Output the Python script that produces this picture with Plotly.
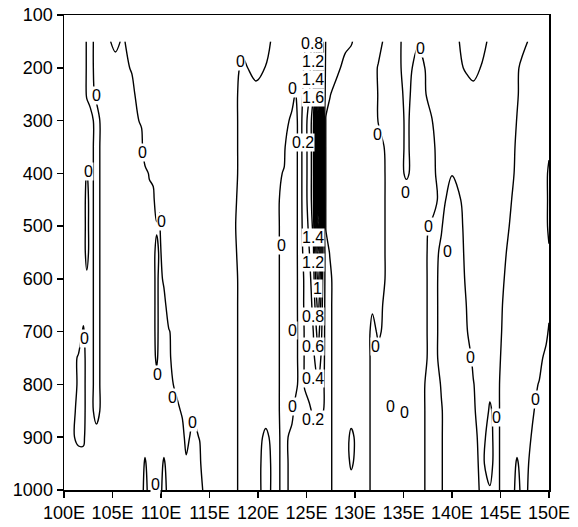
import plotly.graph_objects as go

# Pressure levels (hPa) of the grid rows
levels = [150, 200, 250, 300, 350, 400, 450, 500, 550, 600, 650, 700, 750, 800, 850, 900, 950, 1000]

# Longitudes of the grid columns (deg E)
lons = [100.0, 100.5, 101.5, 102.0, 102.35, 102.7, 103.35, 104.0, 105.3, 106.0,
        107.0, 108.0, 108.35, 108.8, 109.2, 109.55, 109.85, 110.3, 110.8, 111.5,
        112.2, 112.6, 113.3, 114.0, 114.6, 116.0, 117.3, 118.5, 119.8, 120.8,
        121.8, 122.7, 123.5, 123.85, 124.3, 124.8, 125.3, 125.7, 126.2, 126.7,
        127.0, 127.4, 128.0, 129.0, 129.6, 130.5, 131.3, 131.8, 132.4, 133.3,
        134.2, 135.3, 136.5, 137.9, 138.9, 140.0, 141.5, 142.2, 143.0, 143.9,
        144.5, 145.3, 146.2, 146.7, 147.3, 148.2, 149.0, 149.7, 150.0]

# Field values: one profile (150 -> 1000 hPa) per longitude column
z_by_lon = [
    [.1, .1, .1, .1, .1, .1, .1, .1, .1, .1, .1, .1, .1, .1, .1, .1, .1, .1],            # 100.0
    [.1, .1, .1, .1, .1, .1, .1, .1, .1, .1, .1, .1, .1, .1, .1, .07, .1, .1],           # 100.5
    [.1, .1, .1, .1, .1, .1, .1, .1, .1, .1, .1, .1, -.02, -.02, -.05, -.05, .1, .1],    # 101.5
    [.1, .1, .1, .1, .1, .1, .13, .13, .13, .1, .1, -.03, -.1, -.1, -.1, -.05, .1, .1],  # 102.0
    [-.02, -.02, -.02, .1, .1, -.02, -.1, -.1, -.1, .05, .1, .1, .1, .1, .1, .1, .1, .1],  # 102.35
    [-.1, -.1, -.1, .1, .1, .1, .1, .1, .1, .1, .1, .1, .1, .1, .1, .1, .1, .1],         # 102.7
    [.1, .1, .05, -.1, -.1, -.1, -.1, -.1, -.1, -.1, -.1, -.1, -.1, -.1, -.1, .1, .1, .1],  # 103.35
    [.16, .1, .1, .09, .09, .09, .09, .09, .09, .09, .09, .09, .09, .09, .09, .1, .1, .1],  # 104.0
    [-.1, .15, .1, .1, .1, .1, .1, .1, .1, .1, .1, .1, .1, .1, .1, .1, .1, .1],          # 105.3
    [.04, .1, .1, .1, .1, .1, .1, .1, .1, .1, .1, .1, .1, .1, .1, .1, .1, .1],           # 106.0
    [-.1, -.03, .1, .1, .1, .1, .1, .1, .1, .1, .1, .1, .1, .1, .1, .1, .1, .1],         # 107.0
    [-.1, -.1, -.23, -.04, .1, .1, .1, .1, .1, .1, .1, .1, .1, .1, .1, .1, .1, .1],      # 108.0
    [-.1, -.1, -.1, -.1, -.25, .1, .1, .1, .1, .1, .1, .1, .1, .1, .1, .1, -.03, -.1],   # 108.35
    [-.1, -.1, -.1, -.1, -.1, -.03, .1, .1, .1, .1, .1, .1, .1, .1, .1, .1, .1, .1],     # 108.8
    [-.1, -.1, -.1, -.1, -.1, -.1, .1, .1, .1, .1, .1, .1, .1, .1, .1, .1, .1, .1],      # 109.2
    [-.1, -.1, -.1, -.1, -.1, -.1, -.25, .05, -.1, -.1, -.1, -.1, -.05, .1, .1, .1, .1, -.1],  # 109.55
    [-.1, -.1, -.1, -.1, -.1, -.1, -.1, .1, .05, .1, .1, .1, .1, .1, .1, .1, .1, .1],    # 109.85
    [-.1, -.1, -.1, -.1, -.1, -.1, -.1, -.8, -.1, -.05, .1, .1, .1, .1, .1, .1, -.03, -.1],  # 110.3
    [-.1, -.1, -.1, -.1, -.1, -.1, -.1, -.1, -.1, -.1, -.15, .02, .1, .1, .1, .1, .1, .1],   # 110.8
    [-.1, -.1, -.1, -.1, -.1, -.1, -.1, -.1, -.1, -.1, -.1, -.1, -.25, -.05, .1, .1, .1, .1],  # 111.5
    [-.1, -.1, -.1, -.1, -.1, -.1, -.1, -.1, -.1, -.1, -.1, -.1, -.1, -.1, -.04, .1, .1, .1],  # 112.2
    [-.1, -.1, -.1, -.1, -.1, -.1, -.1, -.1, -.1, -.1, -.1, -.1, -.1, -.1, -.1, -.1, .05, .1],  # 112.6
    [-.1, -.1, -.1, -.1, -.1, -.1, -.1, -.1, -.1, -.1, -.1, -.1, -.1, -.1, -.05, .1, .1, .1],  # 113.3
    [-.1, -.1, -.1, -.1, -.1, -.1, -.1, -.1, -.1, -.1, -.1, -.1, -.1, -.1, -.1, -.02, .1, .1],  # 114.0
    [-.1, -.1, -.1, -.1, -.1, -.1, -.1, -.1, -.1, -.1, -.1, -.1, -.1, -.1, -.1, -.1, -.5, -.1],  # 114.6
    [-.1, -.1, -.1, -.1, -.1, -.1, -.1, -.1, -.1, -.1, -.1, -.1, -.1, -.1, -.1, -.1, -.1, -.1],  # 116.0
    [-.1, -.1, -.1, -.1, -.1, -.1, -.07, -.05, -.07, -.1, -.1, -.1, -.1, -.1, -.1, -.1, -.1, -.1],  # 117.3
    [-.1, .05, .1, .1, .1, .1, .1, .1, .1, .1, .1, .1, .1, .1, .1, .1, .1, .1],          # 118.5
    [-.1, -.1, .1, .1, .1, .1, .1, .1, .1, .1, .1, .1, .1, .1, .1, .1, .1, .1],          # 119.8
    [-.1, .01, .1, .1, .1, .1, .1, .1, .1, .1, .1, .1, .1, .1, .1, -.05, -.1, -.1],      # 120.8
    [.1, .1, .1, .1, .1, .1, .1, .1, .1, .1, .1, .1, .1, .1, .1, .1, .1, .1],            # 121.8
    [.1, .1, .1, .1, .1, -.03, -.125, -.125, -.125, -.125, -.125, -.125, -.125, -.125, -.125, -.1, -.1, -.1],  # 122.7
    [.1, .1, .1, -.06, -.7, -.1, -.1, -.1, -.1, -.1, -.1, -.1, -.1, -.1, -.1, .1, .1, .1],  # 123.5
    [.1, .1, -.02, -.1, -.1, -.1, -.1, -.1, -.1, -.1, -.1, -.1, -.1, -.1, .1, .1, .1, .1],  # 123.85
    [.12, .12, .12, .12, .12, .12, .12, .12, .12, .11, .11, .1, .1, .1, .1, .1, .1, .1],  # 124.3
    [.18, .22, .25, .3, .3, .3, .3, .28, .25, .22, .22, .21, .21, .21, .15, .1, .1, .1],  # 124.8
    [.3, .35, .4, .5, .5, .5, .5, .45, .4, .35, .32, .3, .28, .25, .18, .12, .1, .1],    # 125.3
    [.5, .55, .6, .7, .7, .7, .7, .65, .55, .5, .45, .4, .35, .3, .22, .14, .1, .1],     # 125.7
    [.85, 1.25, 1.5, 2.8, 3.6, 3.6, 3.2, 2.0, 1.35, 1.1, .9, .7, .55, .38, .25, .12, .08, .05],  # 126.2
    [.4, .45, .5, .5, .5, .5, .5, .45, .4, .35, .32, .3, .28, .25, .21, .12, .1, .08],   # 126.7
    [.18, .15, .1, -.02, -.02, -.02, -.02, -.02, .1, .12, .12, .12, .12, .12, .12, .1, .1, .08],  # 127.0
    [.12, .12, .02, -.1, -.1, -.1, -.1, -.1, -.01, .05, .05, .05, .05, .05, .05, .05, .05, .05],  # 127.4
    [.1, .1, -.1, -.1, -.1, -.1, -.1, -.1, -.1, -.1, -.1, -.1, -.1, -.1, -.1, -.1, -.1, -.1],  # 128.0
    [.08, -.1, -.1, -.1, -.1, -.1, -.1, -.1, -.1, -.1, -.1, -.1, -.1, -.1, -.1, -.1, -.1, -.1],  # 129.0
    [.02, -.1, -.1, -.1, -.1, -.1, -.1, -.1, -.1, -.1, -.1, -.1, -.1, -.1, -.1, .05, .03, -.1],  # 129.6
    [-.1, -.1, -.1, -.1, -.1, -.1, -.1, -.1, -.1, -.1, -.1, -.1, -.1, -.1, -.1, -.1, -.1, -.1],  # 130.5
    [-.1, -.1, -.1, -.1, -.1, -.1, -.1, -.1, -.1, -.1, -.1, -.1, -.1, -.1, -.1, -.1, -.1, -.1],  # 131.3
    [-.1, -.1, -.1, -.1, -.1, -.1, -.1, -.1, -.1, -.1, -.05, .1, .1, .1, .1, .1, .1, .1],  # 131.8
    [-.1, .02, .01, .01, -.1, -.1, -.1, -.1, -.1, -.1, -.1, -.05, .1, .1, .1, .1, .1, .1],  # 132.4
    [.1, .1, .1, .1, .05, .03, .03, .03, .03, .03, .1, .1, .1, .1, .1, .1, .1, .1],      # 133.3
    [.1, .1, .1, .1, .1, .1, .1, .1, .1, .1, .1, .1, .1, .1, .1, .1, .1, .1],            # 134.2
    [-.1, -.1, -.05, -.03, -.03, -.03, .1, .1, .1, .1, .1, .1, .1, .1, .1, .1, .1, .1],  # 135.3
    [-.03, .1, .1, .1, .1, .1, .1, .1, .1, .1, .1, .1, .1, .1, .1, .1, .1, .1],          # 136.5
    [-.1, -.1, -.07, .01, .1, .1, .1, -.03, -.05, -.05, -.05, -.05, -.05, -.1, -.1, -.1, -.1, -.1],  # 137.9
    [-.1, -.1, -.1, -.1, -.2, -.15, -.07, -.01, .02, .03, .03, .03, .03, .01, -.01, -.01, -.01, -.01],  # 138.9
    [-.1, -.1, -.1, -.1, -.1, -.01, .1, .1, .1, .1, .1, .1, .1, .1, .1, .1, .1, .1],     # 140.0
    [.1, .03, -.1, -.1, -.1, -.1, -.067, -.036, -.025, -.015, -.003, .1, .1, .1, .1, .1, .1, .1],  # 141.5
    [.1, .1, -.1, -.1, -.1, -.1, -.1, -.1, -.1, -.1, -.1, -.6, -.04, .01, .1, .1, .1, .1],  # 142.2
    [.1, -.01, -.1, -.1, -.1, -.1, -.1, -.1, -.1, -.1, -.1, -.1, -.1, -.1, -.3, -.1, -.06, -.033],  # 143.0
    [-.05, -.1, -.1, -.1, -.1, -.1, -.1, -.1, -.1, -.1, -.1, -.1, -.1, -.1, .05, .1, .1, -.02],  # 143.9
    [-.1, -.1, -.1, -.1, -.1, -.1, -.1, -.1, -.1, -.1, -.1, -.1, -.1, -.1, -.1, -.1, -.1, -.1],  # 144.5
    [-.1, -.1, -.1, -.1, -.1, -.1, -.1, -.1, -.05, -.01, .014, .03, .06, .1, .1, .1, .1, .1],  # 145.3
    [-.1, -.1, -.1, -.1, -.1, -.1, .01, .05, .1, .1, .1, .1, .1, .1, .1, .1, .1, .1],    # 146.2
    [-.1, -.05, -.03, .01, .07, .15, .1, .1, .1, .1, .1, .1, .1, .1, .1, .1, -.03, -.1],  # 146.7
    [-.1, .1, .1, .1, .1, .1, .1, .1, .1, .1, .1, .1, .1, .1, .1, .1, .1, .1],           # 147.3
    [.08, .1, .1, .1, .1, .1, .1, .1, .1, .1, .1, .1, .1, .1, .1, -.01, -.05, -.08],     # 148.2
    [.1, .1, .1, .1, .1, .1, .1, .1, .1, .1, .1, .1, .1, -.02, -.2, -.1, -.1, -.1],      # 149.0
    [.1, .1, .1, .1, .1, .1, .1, .1, .1, .1, .1, .1, -.1, -.1, -.1, -.1, -.1, -.1],      # 149.7
    [.1, .1, .1, .1, .1, -.1, -.1, -.1, .05, .1, .1, -.05, -.1, -.1, -.1, -.1, -.1, -.1],  # 150.0
]

# Contour labels as printed on the chart (text, lon, pressure)
label_text = ["0", "0", "0", "0", "0", "0", "0", "0", "0", "0",
              "0", "0", "0", "0", "0.8", "1.2", "1.4", "1.6", "0.2", "1.4",
              "1.2", "1", "0.8", "0.6", "0.4", "0.2", "0", "0", "0", "0",
              "0", "0", "0", "0", "0", "0", "0"]
label_lon = [118.2, 103.3, 108.1, 102.5, 110.0, 102.1, 109.6, 111.2, 113.2, 109.4,
             122.4, 123.6, 123.6, 123.6, 125.6, 125.7, 125.7, 125.7, 124.6, 125.7,
             125.7, 126.1, 125.7, 125.7, 125.7, 125.7, 132.1, 132.3, 135.2, 136.8,
             137.6, 139.5, 141.9, 133.7, 135.1, 144.6, 148.6]
label_p = [189, 252, 361, 397, 492, 712, 782, 825, 873, 990,
           536, 697, 842, 240, 154, 188, 222, 256, 341, 522,
           568, 619, 672, 729, 789, 867, 729, 327, 437, 163,
           500, 549, 748, 842, 854, 863, 829]

x_ticks = [100, 105, 110, 115, 120, 125, 130, 135, 140, 145, 150]
x_tick_text = ["100E", "105E", "110E", "115E", "120E", "125E", "130E", "135E", "140E", "145E", "150E"]
y_ticks = [100, 200, 300, 400, 500, 600, 700, 800, 900, 1000]

FONT = "Liberation Sans, Arial, sans-serif"

fig = go.Figure(go.Contour(
    x=lons, y=levels, z=z_by_lon, transpose=True,
    contours=dict(start=0, end=3.6, size=0.2, coloring="none", showlabels=False),
    line=dict(color="black", width=1.4, smoothing=1.0),
    showscale=False, hoverinfo="skip",
))

for t, lo, p in zip(label_text, label_lon, label_p):
    fig.add_annotation(x=lo, y=p, xref="x", yref="y", text=t, showarrow=False,
                       font=dict(family=FONT, size=16, color="black"),
                       bgcolor="white", borderpad=0, xanchor="center", yanchor="middle")

axis_common = dict(showline=True, linecolor="black", linewidth=1.5, mirror=True,
                   ticks="outside", ticklen=6, tickwidth=1.5, tickcolor="black",
                   showgrid=False, zeroline=False, automargin=False, tickangle=0,
                   tickfont=dict(family=FONT, size=18, color="black"))

fig.update_xaxes(range=[100, 150], tickvals=x_ticks, ticktext=x_tick_text, **axis_common)
fig.update_yaxes(range=[1000, 100], tickvals=y_ticks, ticktext=[str(v) for v in y_ticks], **axis_common)

fig.update_layout(width=578, height=527, margin=dict(l=64, r=29, t=15, b=37),
                  paper_bgcolor="white", plot_bgcolor="white", showlegend=False)

# remove the browser's default page margin so the figure sits at the window's corner
fig.write_html("out.html", config={"displayModeBar": False, "staticPlot": True},
               post_script="document.body.style.margin='0px';")
